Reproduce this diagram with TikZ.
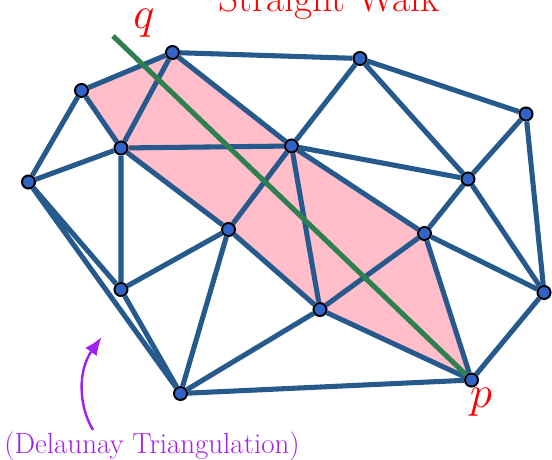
\documentclass[tikz,border=0pt]{standalone}
\usepackage{xcolor}
\usepackage{tikz}
\usetikzlibrary{arrows.meta,backgrounds}
\DeclareFontFamily{OML}{cmm}{\skewchar\font127 }
\DeclareFontShape{OML}{cmm}{m}{it}{<->cmmi12}{}
\definecolor{edgeblue}{RGB}{38,90,140}
\definecolor{vertblue}{RGB}{50,100,200}
\definecolor{walkgreen}{RGB}{46,128,80}
\definecolor{stripink}{RGB}{255,190,202}
\definecolor{notepurple}{RGB}{160,32,240}

\begin{document}
\begin{tikzpicture}[
  x=0.025cm, y=-0.025cm,
  vert/.style={circle, draw=black, fill=vertblue, line width=1.4pt, inner sep=0pt, minimum size=9.3pt},
  edge/.style={draw=edgeblue, line width=3.6pt},
  walk/.style={draw=walkgreen, line width=3.6pt},
  lbl/.style={text=red, inner sep=0pt, font=\fontsize{32}{36}\selectfont},
  note/.style={-{Latex[length=13pt,width=10pt]}, line width=1.7pt, notepurple}
]
  \useasboundingbox (0,0) rectangle (552,460);

  % vertices of the triangulation
  \node[vert] (v1) at (172.5,52.5) {};
  \node[vert] (v2) at (81.5,90.5) {};
  \node[vert] (v3) at (360,58.5) {};
  \node[vert] (v4) at (526,114) {};
  \node[vert] (v5) at (121,148) {};
  \node[vert] (v6) at (291.5,146) {};
  \node[vert] (v7) at (28.5,182) {};
  \node[vert] (v8) at (468,179) {};
  \node[vert] (v9) at (228.5,229.5) {};
  \node[vert] (v10) at (424.5,233.5) {};
  \node[vert] (v11) at (121,289.5) {};
  \node[vert] (v12) at (320,309.5) {};
  \node[vert] (v13) at (544,292.5) {};
  \node[vert] (v14) at (180.5,393.5) {};
  \node[vert] (vp) at (471.5,380) {};

  % triangles crossed by the walk
  \begin{scope}[on background layer]
    \fill[stripink] (v2.center) -- (v1.center) -- (v6.center) -- (v10.center)
      -- (vp.center) -- (v12.center) -- (v9.center) -- (v5.center) -- cycle;
  \end{scope}

  % edges
  \draw[edge] (v1) -- (v2) (v1) -- (v3) (v1) -- (v5) (v1) -- (v6);
  \draw[edge] (v2) -- (v5) (v2) -- (v7);
  \draw[edge] (v3) -- (v6) (v3) -- (v8) (v3) -- (v4);
  \draw[edge] (v4) -- (v8) (v4) -- (v13);
  \draw[edge] (v5) -- (v6) (v5) -- (v7) (v5) -- (v11) (v5) -- (v9);
  \draw[edge] (v6) -- (v9) (v6) -- (v12) (v6) -- (v10) (v6) -- (v8);
  \draw[edge] (v7) -- (v11) (v7) -- (v14);
  \draw[edge] (v8) -- (v10) (v8) -- (v13);
  \draw[edge] (v9) -- (v11) (v9) -- (v14) (v9) -- (v12);
  \draw[edge] (v10) -- (v12) (v10) -- (vp) (v10) -- (v13);
  \draw[edge] (v11) -- (v14);
  \draw[edge] (v12) -- (v14) (v12) -- (vp);
  \draw[edge] (v13) -- (vp) (v14) -- (vp);

  % the straight line from q to p
  \coordinate (qend) at (113,36);
  \draw[walk] (qend) -- (vp);

  \node[lbl, anchor=base] (q) at (144,28) {$q$};
  \node[lbl, anchor=base] (p) at (481,407) {$p$};
  \node[anchor=base, text=red, font=\fontsize{28}{32}\selectfont] (title) at (329,11.5) {Straight Walk};

  \node[anchor=base, text=notepurple, font=\fontsize{20.6}{24}\selectfont] (dt) at (152,453) {(Delaunay Triangulation)};
  \coordinate (tail) at (93,430);
  \coordinate (tip) at (101.7,337);
  \draw[note] (tail) .. controls (78,405) and (78,370) .. (tip);
\end{tikzpicture}
\end{document}
